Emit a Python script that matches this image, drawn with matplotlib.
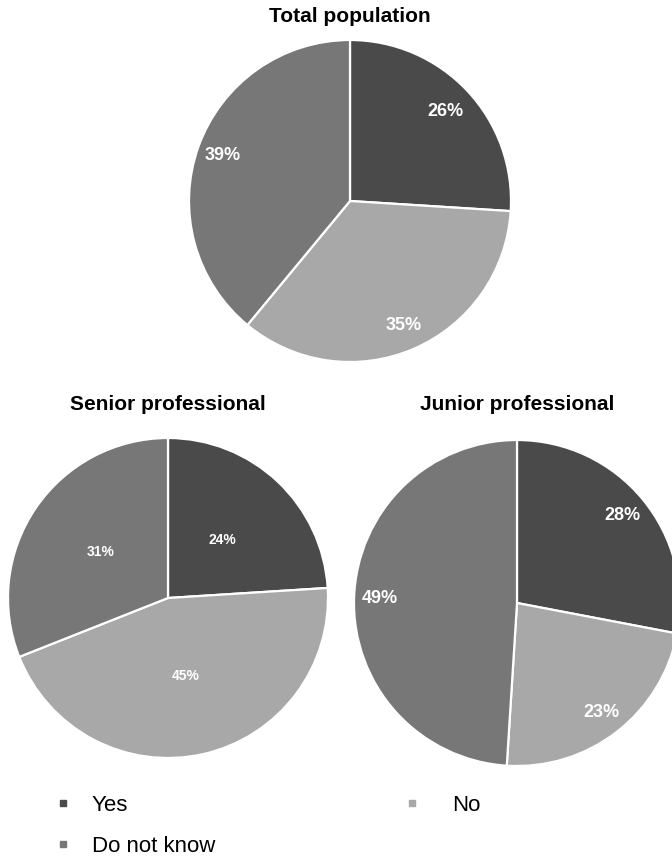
import matplotlib
matplotlib.use("Agg")
import matplotlib.pyplot as plt
import numpy as np
from matplotlib.lines import Line2D

plt.rcParams['font.family'] = ['Liberation Sans', 'DejaVu Sans']

categories = ["Yes", "No", "Do not know"]
total_vals = [26, 35, 39]
senior_vals = [24, 45, 31]
junior_vals = [28, 23, 49]
titles = ["Total population", "Senior professional", "Junior professional"]

colors = ["#4a4a4a", "#a8a8a8", "#777777"]

W, H = 672, 857
fig = plt.figure(figsize=(W / 100, H / 100), dpi=100)


def add_pie(vals, cx, cy, r, label_dist, fs, title, title_y):
    ax = fig.add_axes([(cx - r) / W, (H - cy - r) / H, 2 * r / W, 2 * r / H])
    wedges, _ = ax.pie(vals, colors=colors, startangle=90, counterclock=False,
                       wedgeprops=dict(edgecolor="white", linewidth=1.6))
    total = sum(vals)
    cum = 0
    for v, d in zip(vals, label_dist):
        mid = 90 - 360 * (cum + v / 2) / total
        cum += v
        a = np.deg2rad(mid)
        ax.text(d * np.cos(a), d * np.sin(a), f"{v}%", ha="center", va="center",
                color="white", fontsize=fs, fontweight="bold")
    ax.set_xlim(-1, 1)
    ax.set_ylim(-1, 1)
    ax.set_aspect("equal")
    ax.axis("off")
    fig.text(cx / W, 1 - title_y / H, title, ha="center", va="center",
             fontsize=15, fontweight="bold")
    return wedges


add_pie(total_vals, 350, 201, 161, [0.81, 0.84, 0.84], 13, titles[0], 17)
add_pie(senior_vals, 168, 598, 160, [0.50, 0.50, 0.51], 10, titles[1], 405)
add_pie(junior_vals, 517, 603, 163, [0.84, 0.85, 0.84], 13, titles[2], 405)

handles = [Line2D([], [], marker="s", linestyle="none", markersize=5,
                  markerfacecolor=c, markeredgecolor=c) for c in colors]

# left column: Yes, Do not know
fig.legend([handles[0], handles[2]], [categories[0], categories[2]],
           ncol=1, loc="upper left", bbox_to_anchor=(32 / W, 1 - 775 / H),
           frameon=False, fontsize=16, handletextpad=0.8,
           labelspacing=0.9, handlelength=1.0)
# right column: No
fig.legend([handles[1]], [categories[1]],
           ncol=1, loc="upper left", bbox_to_anchor=(381 / W, 1 - 775 / H),
           frameon=False, fontsize=16, handletextpad=1.3,
           labelspacing=0.9, handlelength=1.0)

fig.savefig("out.png", dpi=100, facecolor="white")
